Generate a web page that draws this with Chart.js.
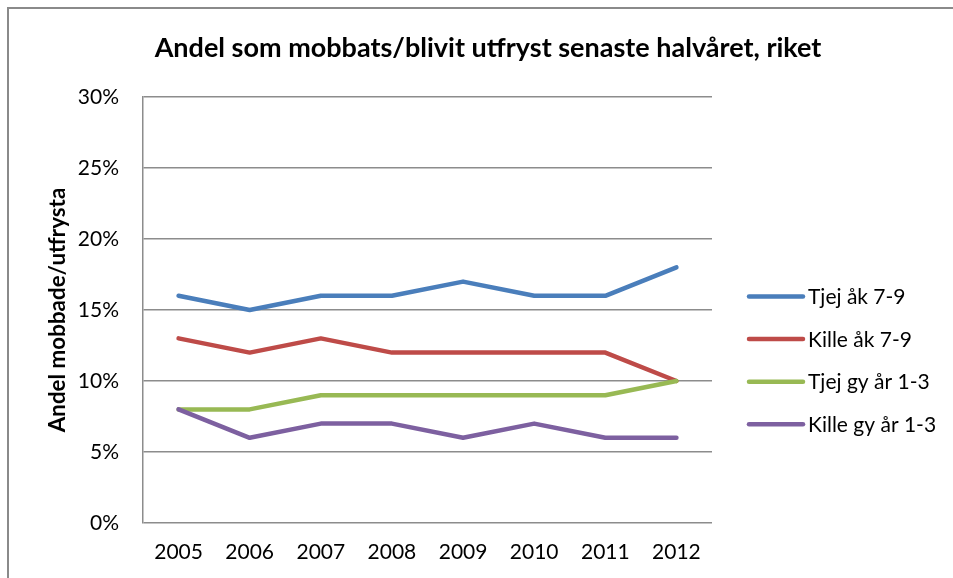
<!DOCTYPE html>
<html>
<head>
<meta charset="utf-8">
<script src="https://cdn.jsdelivr.net/npm/chart.js@4.4.1/dist/chart.umd.min.js"></script>
<style>
  html, body { margin: 0; padding: 0; background: #fff; }
  #wrap { position: relative; width: 953px; height: 578px; overflow: hidden; }
  #frame { position: absolute; left: 7px; top: 7px; width: 1000px; height: 700px;
           border-left: 2px solid #8a8a8a; border-top: 2px solid #8a8a8a; pointer-events: none; }
  canvas { position: absolute; left: 0; top: 0; }
</style>
</head>
<body>
<div id="wrap">
  <canvas id="c" width="953" height="578"></canvas>
  <div id="frame"></div>
</div>
<script>
const chartTitle = 'Andel som mobbats/blivit utfryst senaste halvåret, riket';
const yAxisTitle = 'Andel mobbade/utfrysta';
const years = ['2005', '2006', '2007', '2008', '2009', '2010', '2011', '2012'];
const seriesNames = ['Tjej åk 7-9', 'Kille åk 7-9', 'Tjej gy år 1-3', 'Kille gy år 1-3'];
const tjejAk79 = [16, 15, 16, 16, 17, 16, 16, 18];
const killeAk79 = [13, 12, 13, 12, 12, 12, 12, 10];
const tjejGy13 = [8, 8, 9, 9, 9, 9, 9, 10];
const killeGy13 = [8, 6, 7, 7, 6, 7, 6, 6];
const seriesColors = ['#4A7EBB', '#BE4B48', '#98B954', '#7D60A0'];
const yMin = 0, yMax = 30, yStep = 5;

const FONT = 'Lato, "Open Sans", sans-serif';
const allSeries = [tjejAk79, killeAk79, tjejGy13, killeGy13];

const datasets = allSeries.map((vals, i) => ({
  label: seriesNames[i],
  data: vals,
  borderColor: seriesColors[i],
  backgroundColor: seriesColors[i],
  borderWidth: 4.5,
  pointRadius: 0,
  pointHoverRadius: 0,
  tension: 0,
  borderJoinStyle: 'round',
  borderCapStyle: 'round',
  order: allSeries.length - 1 - i
}));

const customLegend = {
  id: 'customLegend',
  afterDraw(chart) {
    const ctx = chart.ctx;
    const area = chart.chartArea;
    const x0 = area.right + 37;
    const lineLen = 54;
    const y0 = 296.5;
    const gap = 42.6;
    ctx.save();
    ctx.font = '21px ' + FONT;
    ctx.textBaseline = 'middle';
    ctx.textAlign = 'left';
    chart.data.datasets.forEach((ds, i) => {
      const y = y0 + i * gap;
      ctx.strokeStyle = ds.borderColor;
      ctx.lineWidth = 4.5;
      ctx.lineCap = 'round';
      ctx.beginPath();
      ctx.moveTo(x0, y);
      ctx.lineTo(x0 + lineLen, y);
      ctx.stroke();
      ctx.fillStyle = '#000';
      ctx.fillText(ds.label, x0 + lineLen + 5, y + 1);
    });
    ctx.restore();
  }
};

new Chart(document.getElementById('c'), {
  type: 'line',
  data: { labels: years, datasets: datasets },
  options: {
    responsive: false,
    animation: false,
    events: [],
    layout: { padding: { left: 40, right: 17, top: 20, bottom: 0 } },
    plugins: {
      legend: { display: false },
      tooltip: { enabled: false },
      title: {
        display: true,
        text: chartTitle,
        color: '#000',
        font: { family: FONT, size: 27, weight: 'bold', lineHeight: 1.2 },
        padding: { top: 12, bottom: 32.6 }
      }
    },
    scales: {
      x: {
        offset: true,
        grid: { display: false, drawTicks: false },
        border: { display: false },
        ticks: { color: '#000', font: { family: FONT, size: 21 }, padding: 17, maxRotation: 0 },
        afterFit(scale) { scale.height = 55; }
      },
      y: {
        min: yMin, max: yMax,
        grid: { color: '#8c8c8c', lineWidth: 1.5, drawTicks: false },
        border: { display: true, color: '#8c8c8c', width: 1.5 },
        ticks: {
          stepSize: yStep,
          color: '#000',
          font: { family: FONT, size: 21 },
          padding: 24,
          callback: v => v + '%'
        },
        title: {
          display: true,
          text: yAxisTitle,
          color: '#000',
          font: { family: FONT, size: 22.4, weight: 'bold', lineHeight: 1.2 },
          padding: { top: 4, bottom: 4 }
        },
        afterFit(scale) { scale.width = 103; }
      },
      legendSpace: {
        type: 'linear',
        position: 'right',
        display: true,
        grid: { display: false, drawTicks: false },
        border: { display: false },
        ticks: { display: false },
        afterFit(scale) { scale.width = 224; }
      }
    }
  },
  plugins: [customLegend]
});
</script>
</body>
</html>
